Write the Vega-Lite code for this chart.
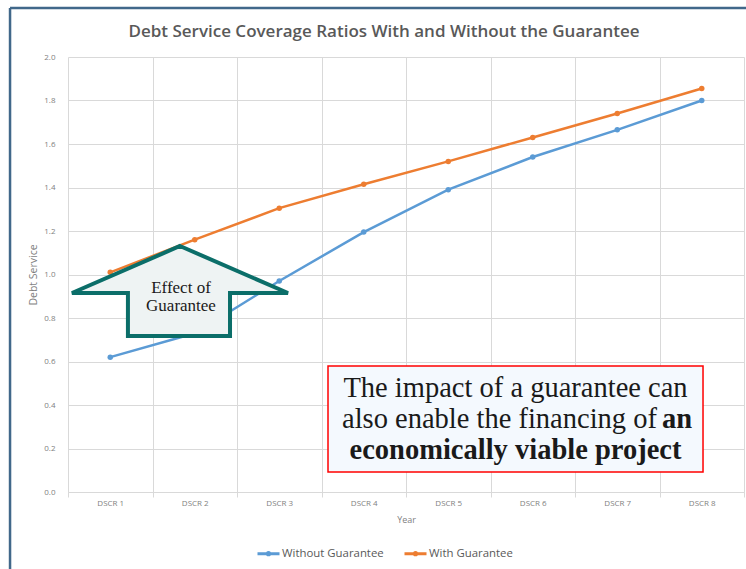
{
  "$schema": "https://vega.github.io/schema/vega-lite/v6.json",
  "width": 676,
  "height": 435,
  "autosize": {"type": "none"},
  "padding": {"left": 68, "top": 57, "right": 2, "bottom": 77},
  "background": "white",
  "config": {"view": {"stroke": null}, "font": "Open Sans"},
  "title": {
    "text": "Debt Service Coverage Ratios With and Without the Guarantee",
    "fontSize": 17,
    "fontWeight": 600,
    "color": "#595959",
    "font": "Open Sans",
    "anchor": "middle",
    "dx": -22,
    "dy": 48,
    "offset": 14
  },
  "resolve": {"scale": {"x": "independent"}},
  "layer": [
    {
      "data": {
        "values": [
          {"period": "DSCR 1", "series": "Without Guarantee", "dscr": 0.62},
          {"period": "DSCR 2", "series": "Without Guarantee", "dscr": 0.73},
          {"period": "DSCR 3", "series": "Without Guarantee", "dscr": 0.97},
          {"period": "DSCR 4", "series": "Without Guarantee", "dscr": 1.195},
          {"period": "DSCR 5", "series": "Without Guarantee", "dscr": 1.39},
          {"period": "DSCR 6", "series": "Without Guarantee", "dscr": 1.54},
          {"period": "DSCR 7", "series": "Without Guarantee", "dscr": 1.665},
          {"period": "DSCR 8", "series": "Without Guarantee", "dscr": 1.80},
          {"period": "DSCR 1", "series": "With Guarantee", "dscr": 1.01},
          {"period": "DSCR 2", "series": "With Guarantee", "dscr": 1.16},
          {"period": "DSCR 3", "series": "With Guarantee", "dscr": 1.305},
          {"period": "DSCR 4", "series": "With Guarantee", "dscr": 1.415},
          {"period": "DSCR 5", "series": "With Guarantee", "dscr": 1.52},
          {"period": "DSCR 6", "series": "With Guarantee", "dscr": 1.63},
          {"period": "DSCR 7", "series": "With Guarantee", "dscr": 1.74},
          {"period": "DSCR 8", "series": "With Guarantee", "dscr": 1.855}
        ]
      },
      "mark": {"type": "line", "strokeWidth": 2.5, "point": {"filled": true, "size": 30, "opacity": 1}},
      "encoding": {
        "x": {
          "field": "period",
          "type": "nominal",
          "sort": null,
          "bandPosition": 0.5,
          "scale": {"type": "band", "paddingInner": 0, "paddingOuter": 0},
          "axis": {
            "title": "Year",
            "tickBand": "extent",
            "grid": true,
            "gridColor": "#d9d9d9",
            "domainColor": "#d9d9d9",
            "tickColor": "#d9d9d9",
            "tickSize": 5,
            "labelAngle": 0,
            "labelFontSize": 8,
            "labelColor": "#7f7f7f",
            "labelPadding": 2,
            "titleFontSize": 9,
            "titleColor": "#7f7f7f",
            "titleFontWeight": "normal",
            "titlePadding": 8
          }
        },
        "y": {
          "field": "dscr",
          "type": "quantitative",
          "scale": {"domain": [0, 2], "nice": false},
          "axis": {
            "title": "Debt Service",
            "values": [0, 0.2, 0.4, 0.6, 0.8, 1.0, 1.2, 1.4, 1.6, 1.8, 2.0],
            "format": ".1f",
            "grid": true,
            "gridColor": "#d9d9d9",
            "domain": false,
            "ticks": false,
            "labelFontSize": 8,
            "labelColor": "#7f7f7f",
            "labelPadding": 13,
            "titleFontSize": 10.5,
            "titleColor": "#7f7f7f",
            "titleFontWeight": "normal",
            "titlePadding": 5
          }
        },
        "color": {
          "field": "series",
          "type": "nominal",
          "scale": {"domain": ["Without Guarantee", "With Guarantee"], "range": ["#5b9bd5", "#ed7d31"]},
          "legend": {
            "title": null,
            "orient": "none",
            "legendX": 188,
            "legendY": 484,
            "direction": "horizontal",
            "symbolType": "M-1,0L1,0M-0.1,0A0.1,0.1 0 1,0 0.1,0A0.1,0.1 0 1,0 -0.1,0",
            "symbolSize": 484,
            "symbolStrokeWidth": 3,
            "labelFontSize": 11.4,
            "labelColor": "#595959",
            "labelFont": "Open Sans",
            "columnPadding": 14,
            "labelOffset": 1
          }
        }
      }
    },
    {
      "data": {"values": [{"note": "annotation"}]},
      "layer": [
        {
          "mark": {"type": "rule", "stroke": "#41688a", "strokeWidth": 2.5},
          "encoding": {
            "x": {"datum": -0.686, "type": "quantitative", "scale": {"domain": [0, 8], "nice": false, "zero": false}, "axis": null},
            "y": {"datum": 2.2253},
            "y2": {"datum": -0.405}
          }
        },
        {
          "mark": {"type": "rule", "stroke": "#41688a", "strokeWidth": 2.5},
          "encoding": {
            "x": {"datum": -0.686, "type": "quantitative"},
            "x2": {"datum": 8.07},
            "y": {"datum": 2.2253}
          }
        },
        {
          "mark": {
            "type": "point",
            "shape": "M0,-0.418L0.982,0.009L0.455,0.009L0.455,0.4L-0.473,0.4L-0.473,0.009L-0.982,0.009Z",
            "size": 48400,
            "filled": true,
            "fill": "#eef3f3",
            "stroke": "#0b6e69",
            "strokeWidth": 4,
            "opacity": 1
          },
          "encoding": {
            "x": {"datum": 1.325, "type": "quantitative"},
            "y": {"datum": 0.9195}
          }
        },
        {
          "mark": {
            "type": "text",
            "text": ["Effect of", "Guarantee"],
            "font": "Liberation Serif",
            "fontSize": 17,
            "lineHeight": 18,
            "align": "center",
            "baseline": "middle",
            "color": "#1a1a1a"
          },
          "encoding": {
            "x": {"datum": 1.337, "type": "quantitative"},
            "y": {"datum": 0.938}
          }
        },
        {
          "mark": {"type": "rect", "fill": "#f4f9fe", "stroke": "#ff0000", "strokeWidth": 1.5},
          "encoding": {
            "x": {"datum": 3.077, "type": "quantitative"},
            "x2": {"datum": 7.515},
            "y": {"datum": 0.5793},
            "y2": {"datum": 0.092}
          }
        },
        {
          "mark": {"type": "text", "text": "The impact of a guarantee can", "font": "Liberation Serif", "fontSize": 28.5, "align": "center", "baseline": "alphabetic", "color": "#1a1a1a"},
          "encoding": {
            "x": {"datum": 5.296, "type": "quantitative"},
            "y": {"datum": 0.4368}
          }
        },
        {
          "mark": {"type": "text", "text": "also enable the financing of", "font": "Liberation Serif", "fontSize": 28.5, "align": "right", "baseline": "alphabetic", "color": "#1a1a1a"},
          "encoding": {
            "x": {"datum": 6.97, "type": "quantitative"},
            "y": {"datum": 0.2943}
          }
        },
        {
          "mark": {"type": "text", "text": "an", "font": "Liberation Serif", "fontSize": 28.5, "fontWeight": "bold", "align": "left", "baseline": "alphabetic", "color": "#1a1a1a"},
          "encoding": {
            "x": {"datum": 7.03, "type": "quantitative"},
            "y": {"datum": 0.2943}
          }
        },
        {
          "mark": {"type": "text", "text": "economically viable project", "font": "Liberation Serif", "fontSize": 28.5, "fontWeight": "bold", "align": "center", "baseline": "alphabetic", "color": "#1a1a1a"},
          "encoding": {
            "x": {"datum": 5.296, "type": "quantitative"},
            "y": {"datum": 0.1517}
          }
        }
      ]
    }
  ]
}
